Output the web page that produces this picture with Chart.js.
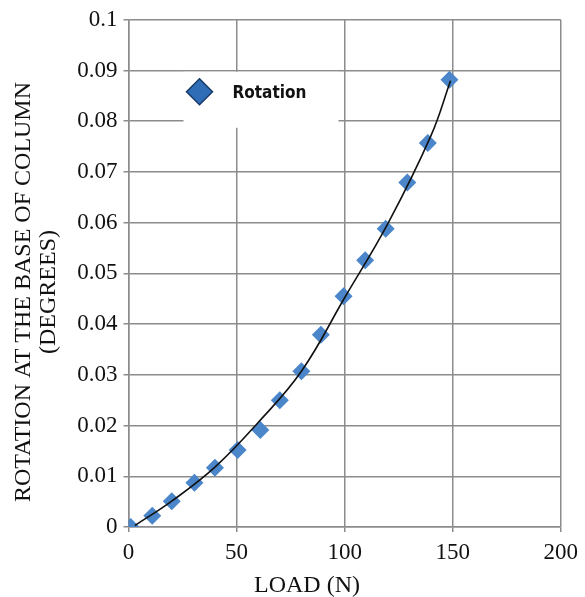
<!DOCTYPE html>
<html>
<head>
<meta charset="utf-8">
<script src="https://cdn.jsdelivr.net/npm/chart.js@4.4.1/dist/chart.umd.min.js"></script>
<style>
  html, body { margin: 0; padding: 0; background: #fff; }
  #wrap { width: 585px; height: 597px; position: relative; }
</style>
</head>
<body>
<div id="wrap"><canvas id="chart"></canvas></div>
<script>
// Measured points (load in N, rotation in degrees)
const loadN = [1, 11, 20, 30.5, 40, 50.5, 61, 70, 80, 89, 99.5, 109.5, 119, 129, 138.5, 148.5];
const rotationDeg = [0, 0.0022, 0.0051, 0.0087, 0.0117, 0.0152, 0.0191, 0.025, 0.0307, 0.0379, 0.0455, 0.0526, 0.0588, 0.0679, 0.0757, 0.0882];

// Trend line
const trendLoad = [3, 20, 40, 60, 80, 100, 120, 140, 149];
const trendRotation = [0.0003, 0.0051, 0.0118, 0.0206, 0.0307, 0.0452, 0.0598, 0.0772, 0.0880];

const xTicks = [0, 50, 100, 150, 200];
const yTicks = [0, 0.01, 0.02, 0.03, 0.04, 0.05, 0.06, 0.07, 0.08, 0.09, 0.1];

const seriesLabel = 'Rotation';
const xTitle = 'LOAD (N)';
const yTitle = ['ROTATION AT THE BASE OF COLUMN', '(DEGREES)'];

const serif = '"Liberation Serif", "Times New Roman", serif';
const gridColor = '#8c8c8c';

// legend box drawn inside the plot, plus the axis titles
const overlay = {
    id: 'overlay',
    afterDraw(chart) {
        const ctx = chart.ctx;
        const area = chart.chartArea;
        ctx.save();

        // legend
        const lx = area.left + 55, ly = area.top + 52;
        ctx.fillStyle = '#fff';
        ctx.fillRect(lx, ly, 155, 56);
        const cx = lx + 16, cy = ly + 20, r = 13;
        ctx.beginPath();
        ctx.moveTo(cx, cy - r);
        ctx.lineTo(cx + r, cy);
        ctx.lineTo(cx, cy + r);
        ctx.lineTo(cx - r, cy);
        ctx.closePath();
        ctx.fillStyle = '#2f6eb6';
        ctx.fill();
        ctx.strokeStyle = '#183a68';
        ctx.lineWidth = 1.5;
        ctx.stroke();
        ctx.fillStyle = '#111';
        ctx.font = 'bold 17px "DejaVu Sans Condensed", "DejaVu Sans", sans-serif';
        ctx.textBaseline = 'middle';
        ctx.textAlign = 'left';
        ctx.fillText(seriesLabel, lx + 49, cy + 2);

        // axis titles
        ctx.fillStyle = '#111';
        ctx.font = '24px ' + serif;
        ctx.textAlign = 'center';
        ctx.textBaseline = 'alphabetic';
        ctx.fillText(xTitle, 307, 592);

        ctx.translate(0, 292);
        ctx.rotate(-Math.PI / 2);
        ctx.fillText(yTitle[0], 0, 30);
        ctx.fillText(yTitle[1], 0, 55);
        ctx.restore();
    }
};

new Chart(document.getElementById('chart'), {
    type: 'scatter',
    data: {
        datasets: [
            {
                label: seriesLabel,
                data: loadN.map((x, i) => ({ x: x, y: rotationDeg[i] })),
                pointStyle: 'rectRot',
                pointRadius: 9,
                pointHoverRadius: 9,
                backgroundColor: '#4a86c9',
                borderColor: '#4a86c9',
                borderWidth: 0,
                order: 2
            },
            {
                label: 'Trend',
                data: trendLoad.map((x, i) => ({ x: x, y: trendRotation[i] })),
                showLine: true,
                pointRadius: 0,
                borderColor: '#111',
                borderWidth: 1.6,
                tension: 0.4,
                fill: false,
                order: 1
            }
        ]
    },
    options: {
        responsive: true,
        maintainAspectRatio: false,
        animation: false,
        layout: {
            padding: { left: 0, right: 23, top: 16, bottom: 0 }
        },
        plugins: {
            legend: { display: false },
            tooltip: { enabled: false }
        },
        scales: {
            x: {
                type: 'linear',
                min: 0,
                max: 200,
                afterBuildTicks: scale => { scale.ticks = xTicks.map(v => ({ value: v })); },
                afterFit: scale => { scale.height = 70; },
                grid: { color: gridColor, lineWidth: 1.5, tickLength: 5 },
                border: { color: gridColor, width: 1.5 },
                ticks: {
                    color: '#111',
                    font: { family: serif, size: 23 },
                    padding: 7,
                    maxRotation: 0
                }
            },
            y: {
                type: 'linear',
                min: 0,
                max: 0.1,
                afterBuildTicks: scale => { scale.ticks = yTicks.map(v => ({ value: v })); },
                afterFit: scale => { scale.width = 128.5; },
                grid: { color: gridColor, lineWidth: 1.5, tickLength: 5 },
                border: { color: gridColor, width: 1.5 },
                ticks: {
                    color: '#111',
                    font: { family: serif, size: 23 },
                    padding: 6,
                    callback: v => String(Number(v.toFixed(2)))
                }
            }
        }
    },
    plugins: [overlay]
});
</script>
</body>
</html>
